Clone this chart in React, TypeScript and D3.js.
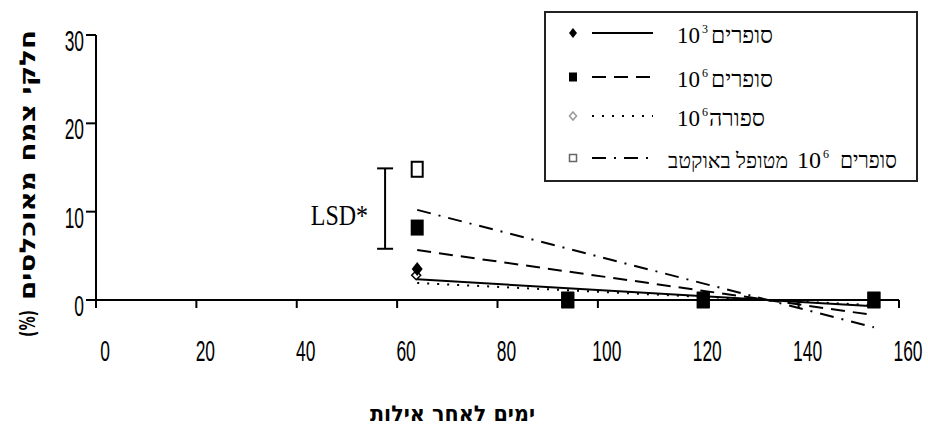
import React from 'react';
import * as d3 from 'd3';

// ---- data ----
const days = [64, 94, 121, 155];
const seriesA = [3.4, 0, 0, 0];   // סופרים 10³
const seriesB = [8.2, 0, 0, 0];   // סופרים 10⁶
const seriesC = [2.8, 0, 0, 0];   // ספורה 10⁶
const seriesD = [14.8, 0, 0, 0];  // סופרים 10⁶ מטופל באוקטב
// legend labels are made of: hebrew word, "10", exponent, extra hebrew words
const legendWords = ['סופרים', 'סופרים', 'ספורה', 'סופרים'];
const legendExponents = ['3', '6', '6', '6'];
const legendExtra = ['', '', '', 'מטופל באוקטב'];
const legendBase = '10';
const xTickValues = [0, 20, 40, 60, 80, 100, 120, 140, 160];
const yTickValues = [0, 10, 20, 30];
const lsdDay = [57.6];
const lsdBounds = [5.8, 14.9];
const lsdLabel = 'LSD*';
const xTitle = 'ימים לאחר אילות';
const yTitleWords = 'חלקי צמח מאוכלסים';
const yTitleUnit = '(%)';

// ---- styles / layout ----
const dashes = ['', '14,8', '2,8', '14,8,2,8'];
const legendMarkerColor = ['#000', '#000', '#999', '#666'];

function fit(xs: number[], ys: number[]) {
  const mx = d3.mean(xs) as number;
  const my = d3.mean(ys) as number;
  const sxy = d3.sum(xs.map((v, i) => (v - mx) * (ys[i] - my)));
  const sxx = d3.sum(xs.map((v) => (v - mx) * (v - mx)));
  const b = sxy / sxx;
  const a = my - b * mx;
  const [x0, x1] = d3.extent(xs) as [number, number];
  return [
    [x0, a + b * x0],
    [x1, a + b * x1],
  ] as [number, number][];
}

function diamond(cx: number, cy: number, w: number, h: number) {
  return `M${cx},${cy - h / 2}L${cx + w / 2},${cy}L${cx},${cy + h / 2}L${cx - w / 2},${cy}Z`;
}

export default function App() {
  const W = 928;
  const H = 425;
  const x = d3.scaleLinear().domain([0, 160]).range([96, 899]);
  const y = d3.scaleLinear().domain([0, 30]).range([300, 35]);
  const allSeries = [seriesA, seriesB, seriesC, seriesD];
  const line = d3
    .line<[number, number]>()
    .x((d) => x(d[0]))
    .y((d) => y(d[1]));

  const tickFont = "'Liberation Sans', Arial, sans-serif";
  const serif = "'Liberation Serif', 'Times New Roman', serif";
  const titleFont = "'DejaVu Sans', 'Liberation Sans', sans-serif";

  const legendRowsY = [33, 77, 116, 158];
  const legendLayout = [
    { num: 677, numLen: 23, word: 711, wordLen: 62 },
    { num: 677, numLen: 23, word: 711, wordLen: 62 },
    { num: 677, numLen: 23, word: 709, wordLen: 56 },
    { num: 797, numLen: 24, word: 840, wordLen: 57, extra: 668, extraLen: 120 },
  ];

  return (
    <svg
      width={W}
      height={H}
      style={{ position: 'absolute', left: 0, top: 0, background: '#fff' }}
    >
      <rect x={0} y={0} width={W} height={H} fill="#fff" />

      {/* axes */}
      <line x1={x(0)} x2={x(160)} y1={y(0)} y2={y(0)} stroke="#000" strokeWidth={2} />
      <line x1={x(0)} x2={x(0)} y1={y(30)} y2={y(0)} stroke="#000" strokeWidth={2} />
      {xTickValues.map((v) => (
        <g key={'xt' + v}>
          <line x1={x(v)} x2={x(v)} y1={y(0)} y2={y(0) + 8} stroke="#000" strokeWidth={2} />
          <text
            transform={`translate(${x(v) + 9},361) scale(0.6,1)`}
            textAnchor="middle"
            fontFamily={tickFont}
            fontSize={29}
            fill="#000"
          >
            {v}
          </text>
        </g>
      ))}
      {yTickValues.map((v) => (
        <g key={'yt' + v}>
          <line x1={x(0) - 10} x2={x(0)} y1={y(v)} y2={y(v)} stroke="#000" strokeWidth={2} />
          <text
            transform={`translate(84,${y(v) + 16}) scale(0.6,1)`}
            textAnchor="end"
            fontFamily={tickFont}
            fontSize={29}
            fill="#000"
          >
            {v}
          </text>
        </g>
      ))}

      {/* trendlines */}
      {allSeries.map((s, i) => (
        <path
          key={'tl' + i}
          d={line(fit(days, s)) || ''}
          fill="none"
          stroke="#000"
          strokeWidth={2}
          strokeDasharray={dashes[i] || undefined}
        />
      ))}

      {/* markers */}
      {days.map((d, j) => (
        <path key={'a' + j} d={diamond(x(d), y(seriesA[j]) - 1, 11, 14)} fill="#000" />
      ))}
      {days.map((d, j) => (
        <rect
          key={'b' + j}
          x={x(d) - 6.5}
          y={y(seriesB[j]) - 8}
          width={13}
          height={16}
          fill="#000"
        />
      ))}
      {days.map((d, j) => (
        <path
          key={'c' + j}
          d={diamond(x(d) - 1, y(seriesC[j]), 9, 9)}
          fill="none"
          stroke="#000"
          strokeWidth={1.5}
        />
      ))}
      {days.map((d, j) => (
        <rect
          key={'d' + j}
          x={x(d) - 5.5}
          y={y(seriesD[j]) - 7.5}
          width={11}
          height={15}
          fill="none"
          stroke="#000"
          strokeWidth={2}
        />
      ))}

      {/* LSD bar */}
      {lsdDay.map((d) => (
        <g key="lsd">
          <line x1={x(d)} x2={x(d)} y1={y(lsdBounds[0])} y2={y(lsdBounds[1])} stroke="#000" strokeWidth={2} />
          <line x1={x(d) - 8} x2={x(d) + 8} y1={y(lsdBounds[0])} y2={y(lsdBounds[0])} stroke="#000" strokeWidth={2} />
          <line x1={x(d) - 8} x2={x(d) + 8} y1={y(lsdBounds[1])} y2={y(lsdBounds[1])} stroke="#000" strokeWidth={2} />
          <text
            transform={`translate(${x(d) - 17},225) scale(0.8,1)`}
            textAnchor="end"
            fontFamily={serif}
            fontSize={30}
            fill="#000"
          >
            {lsdLabel}
          </text>
        </g>
      ))}

      {/* legend */}
      <rect x={545} y={12} width={372} height={169} fill="#fff" stroke="#222" strokeWidth={2} />
      {legendWords.map((word, i) => {
        const ly = legendRowsY[i];
        const L = legendLayout[i];
        const mx = 573;
        let marker;
        if (i === 0) marker = <path d={diamond(mx, ly, 8, 10)} fill="#000" />;
        else if (i === 1) marker = <rect x={mx - 4} y={ly - 4.5} width={8} height={9} fill="#000" />;
        else if (i === 2)
          marker = <path d={diamond(mx, ly, 7, 8)} fill="none" stroke={legendMarkerColor[i]} strokeWidth={1.5} />;
        else
          marker = (
            <rect x={mx - 3.5} y={ly - 3.5} width={7} height={7} fill="none" stroke={legendMarkerColor[i]} strokeWidth={1.5} />
          );
        return (
          <g key={'lg' + i}>
            {marker}
            <line
              x1={592}
              x2={653}
              y1={ly}
              y2={ly}
              stroke="#000"
              strokeWidth={2}
              strokeDasharray={dashes[i] || undefined}
            />
            <text
              x={L.num}
              y={ly + 10}
              fontFamily={serif}
              fontSize={24}
              textLength={L.numLen}
              lengthAdjust="spacingAndGlyphs"
              fill="#000"
            >
              {legendBase}
            </text>
            <text x={L.num + L.numLen + 2} y={ly} fontFamily={serif} fontSize={12} fill="#000">
              {legendExponents[i]}
            </text>
            <text
              x={L.word}
              y={ly + 10}
              fontFamily={serif}
              fontSize={23}
              textLength={L.wordLen}
              lengthAdjust="spacingAndGlyphs"
              fill="#000"
            >
              {word}
            </text>
            {legendExtra[i] && (
              <text
                x={L.extra}
                y={ly + 10}
                fontFamily={serif}
                fontSize={21}
                textLength={L.extraLen}
                lengthAdjust="spacingAndGlyphs"
                fill="#000"
              >
                {legendExtra[i]}
              </text>
            )}
          </g>
        );
      })}

      {/* x axis title */}
      <text
        x={370}
        y={421}
        fontFamily={titleFont}
        fontWeight="bold"
        fontSize={22}
        textLength={165}
        lengthAdjust="spacingAndGlyphs"
        fill="#000"
      >
        {xTitle}
      </text>

      {/* y axis title */}
      <g transform="translate(29,0) rotate(-90)">
        <text
          x={-337}
          y={6}
          fontFamily={titleFont}
          fontWeight="bold"
          fontSize={22}
          textLength={27}
          lengthAdjust="spacingAndGlyphs"
          fill="#000"
        >
          {yTitleUnit}
        </text>
        <text
          x={-300}
          y={6}
          fontFamily={titleFont}
          fontWeight="bold"
          fontSize={22}
          textLength={270}
          lengthAdjust="spacingAndGlyphs"
          fill="#000"
        >
          {yTitleWords}
        </text>
      </g>
    </svg>
  );
}
